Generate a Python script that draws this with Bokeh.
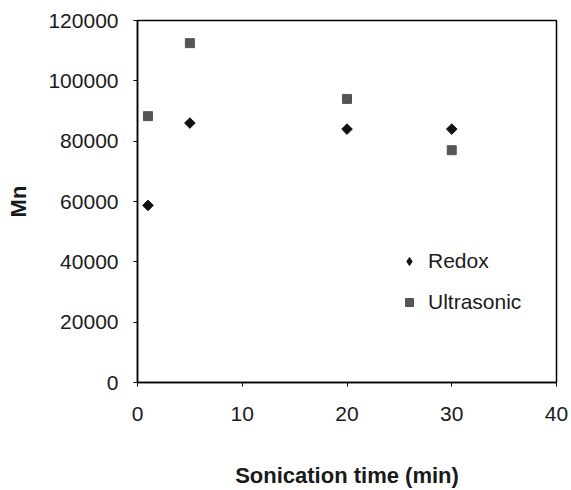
from bokeh.plotting import figure
from bokeh.models import Legend, LegendItem, FixedTicker, NumeralTickFormatter, Range1d, ColumnDataSource
from bokeh.embed import file_html
from bokeh.resources import INLINE
import math

time_redox = [1, 5, 20, 30]
mn_redox = [58700, 86000, 84000, 84000]
time_ultra = [1, 5, 20, 30]
mn_ultra = [88300, 112500, 94000, 77000]
x_ticks = [0, 10, 20, 30, 40]
y_ticks = [0, 20000, 40000, 60000, 80000, 100000, 120000]

FONT = "Liberation Sans"

p = figure(width=571, height=490, output_backend="svg", toolbar_location=None,
           x_range=Range1d(0, 40), y_range=Range1d(0, 120000),
           min_border_left=137, min_border_right=15, min_border_top=20, min_border_bottom=108)
p.grid.visible = False
p.outline_line_color = "black"
p.outline_line_width = 1.5
p.background_fill_color = "white"
p.border_fill_color = "white"

p.scatter(time_redox, mn_redox, marker="square", angle=math.pi / 4, size=7.5,
          fill_color="#111111", line_color="#111111")
p.scatter(time_ultra, mn_ultra, marker="square", size=9,
          fill_color="#555555", line_color="#555555")
# legend-only renderers: a single non-drawable (NaN) point, used only for the legend swatch
nan = float("nan")
leg1 = p.scatter("x", "y", source=ColumnDataSource(data=dict(x=[nan], y=[nan])), marker="diamond",
                 size=13, fill_color="#111111", line_color="#111111")
leg2 = p.scatter("x", "y", source=ColumnDataSource(data=dict(x=[nan], y=[nan])), marker="square",
                 size=7, fill_color="#555555", line_color="#555555")

for ax in (p.xaxis[0], p.yaxis[0]):
    ax.axis_line_width = 1.5
    ax.axis_line_color = "black"
    ax.major_tick_out = 4
    ax.major_tick_in = 0
    ax.minor_tick_line_color = None
    ax.major_label_text_font = FONT
    ax.major_label_text_font_size = "21px"
    ax.major_label_text_color = "#1a1a1a"
    ax.axis_label_text_font = FONT
    ax.axis_label_text_font_style = "bold"
    ax.axis_label_text_font_size = "22px"
    ax.axis_label_text_color = "#1a1a1a"

p.xaxis.ticker = FixedTicker(ticks=x_ticks)
p.yaxis.ticker = FixedTicker(ticks=y_ticks)
p.yaxis.formatter = NumeralTickFormatter(format="0")
p.xaxis.axis_label = "Sonication time (min)"
p.yaxis.axis_label = "Mn"
p.xaxis.major_label_standoff = 20
p.yaxis.major_label_standoff = 15
p.xaxis.axis_label_standoff = 39
p.yaxis.axis_label_standoff = 14

legend = Legend(items=[LegendItem(label="Redox", renderers=[leg1]),
                       LegendItem(label="Ultrasonic", renderers=[leg2])],
                location=(262, 68), border_line_color=None, background_fill_alpha=0,
                padding=0, margin=0, spacing=17, label_standoff=9,
                label_text_font=FONT, label_text_font_size="21px", label_text_color="#1a1a1a",
                glyph_width=20, glyph_height=20, label_height=20)
p.add_layout(legend)

open("out.html", "w").write(file_html(p, INLINE))
